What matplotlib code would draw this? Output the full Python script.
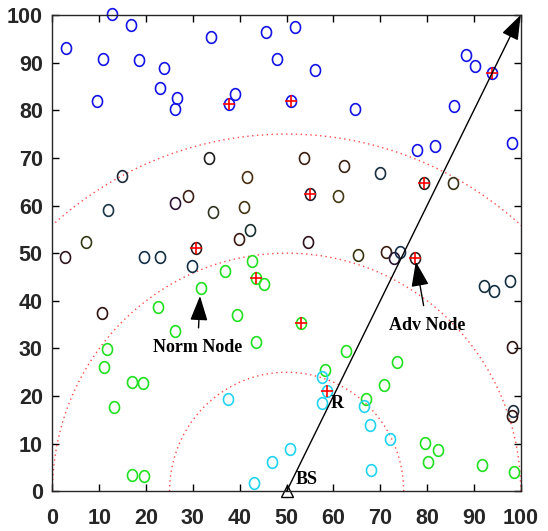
import numpy as np
import matplotlib
matplotlib.use("Agg")
import matplotlib.pyplot as plt
from matplotlib.path import Path

# node positions by distance band from the base station
blue_x = [2.9, 12.7, 16.7, 10.7, 18.4, 9.6, 23.9, 23.0, 26.5, 26.2, 33.8, 37.8, 39.0,
          45.7, 47.9, 51.8, 56.0, 50.9, 64.7, 88.4, 90.3, 93.8, 85.8, 98.1, 77.8, 81.6]
blue_y = [93.0, 100.1, 98.0, 90.8, 90.6, 82.0, 88.8, 84.6, 82.6, 80.3, 95.4, 81.3, 83.4,
          96.5, 90.7, 97.5, 88.4, 82.0, 80.3, 91.6, 89.3, 87.8, 80.8, 73.2, 71.7, 72.5]

dark_x = [33.4, 14.9, 41.5, 53.8, 62.2, 70.0, 28.9, 26.1, 11.9, 34.3, 40.8, 42.2, 39.8,
          7.1, 2.7, 19.6, 23.0, 30.6, 29.9, 10.5, 79.3, 85.5, 55.0, 60.9, 54.6, 65.2,
          71.2, 72.9, 74.3, 77.4, 92.2, 94.2, 97.8, 98.1, 98.3, 98.1]
dark_y = [70.0, 66.2, 65.9, 70.0, 68.2, 66.9, 61.9, 60.5, 59.1, 58.6, 59.7, 54.9, 52.9,
          52.3, 49.2, 49.1, 49.1, 51.0, 47.2, 37.4, 64.7, 64.7, 62.4, 61.9, 52.3, 49.6,
          50.3, 49.0, 50.2, 49.0, 43.2, 42.0, 44.2, 30.4, 16.9, 15.8]
dark_c = ['#202020', '#1c2b3a', '#4a3010', '#3a2010', '#3a2515', '#1a3040', '#3d2015',
          '#2a1535', '#1a3545', '#303520', '#453515', '#1a3030', '#3a1a10', '#353a15',
          '#301520', '#15304a', '#153040', '#302020', '#153045', '#301510', '#252525',
          '#3a3015', '#202030', '#453a15', '#301520', '#3a3510', '#3a2010', '#2a1535',
          '#15304a', '#302020', '#153040', '#153045', '#153040', '#301515', '#203040',
          '#301510']

green_x = [42.7, 36.8, 43.4, 45.2, 31.7, 22.5, 39.4, 26.1, 43.4, 53.1, 11.6, 11.1, 17.0,
           19.4, 13.2, 17.0, 19.6, 62.7, 73.6, 58.3, 70.9, 66.9, 79.5, 82.4, 80.2, 91.8, 98.6]
green_y = [48.4, 46.3, 44.8, 43.5, 42.7, 38.7, 37.0, 33.7, 31.3, 35.3, 29.9, 26.0, 22.9,
           22.8, 17.6, 3.5, 3.3, 29.5, 27.1, 25.4, 22.4, 19.3, 10.1, 8.6, 6.2, 5.5, 4.0]

cyan_x = [37.5, 43.0, 46.9, 57.6, 58.6, 57.5, 66.6, 67.8, 72.0, 50.7, 68.1]
cyan_y = [19.3, 1.7, 6.2, 23.9, 21.0, 18.6, 17.9, 13.9, 11.0, 8.8, 4.5]

# advanced nodes (marked with a red cross)
adv_x = [37.8, 50.9, 93.8, 30.6, 55.0, 79.3, 77.4, 43.4, 53.1, 58.6]
adv_y = [81.3, 82.0, 87.8, 51.0, 62.4, 64.7, 49.0, 44.8, 35.3, 21.0]

bs = (50, 0)
radii = [25, 50, 75]
ticks = list(range(0, 101, 10))

fig = plt.figure(figsize=(5.48, 5.31), dpi=100)
ax = fig.add_axes([0.0958, 0.0747, 0.8544, 0.8971])

# slightly narrow circle marker
t = np.linspace(0, 2 * np.pi, 60)
ell = Path(np.column_stack([0.86 * np.cos(t), np.sin(t)]))
mk = dict(marker=ell, markersize=8.4, markerfacecolor='none', markeredgewidth=1.2,
          linestyle='none', clip_on=False)

# range rings around the base station
th = np.linspace(0, np.pi, 300)
for r in radii:
    ax.plot(bs[0] + r * np.cos(th), bs[1] + r * np.sin(th), linestyle=(0, (1, 2.5)),
            color='#ff4a4a', lw=1.0)

arrow = dict(arrowstyle='-|>,head_length=0.9,head_width=0.32', color='black', lw=1.0,
             shrinkB=0, mutation_scale=17)

ax.annotate('', xy=(100, 100), xytext=bs, arrowprops=dict(arrow, shrinkA=0))

ax.plot(blue_x, blue_y, markeredgecolor='#1414e6', **mk)
for x, y, c in zip(dark_x, dark_y, dark_c):
    ax.plot(x, y, markeredgecolor=c, **mk)
ax.plot(green_x, green_y, markeredgecolor='#22e022', **mk)
ax.plot(cyan_x, cyan_y, markeredgecolor='#22d4f2', **mk)
ax.plot(adv_x, adv_y, marker='+', color='red', markersize=8, markeredgewidth=1.2,
        linestyle='none', clip_on=False)

ax.plot(*bs, marker='^', markersize=8, markerfacecolor='none', markeredgecolor='black',
        markeredgewidth=1.0, clip_on=False)

tfont = dict(family='Liberation Serif', weight='bold', size=13)
ax.annotate('Norm Node', xy=(31.5, 41.0), xytext=(31.0, 30.2), ha='center', va='center',
            arrowprops=dict(arrow, shrinkA=6), **tfont)
ax.annotate('Adv Node', xy=(77.6, 48.2), xytext=(80.0, 34.9), ha='center', va='center',
            arrowprops=dict(arrow, shrinkA=6), **tfont)
ax.text(60.9, 18.5, 'R', ha='center', va='center', **tfont)
ax.text(52.0, 2.4, 'BS', ha='left', va='center', **tfont)

ax.set_xlim(0, 100)
ax.set_ylim(0, 100)
ax.set_xticks(ticks)
ax.set_yticks(ticks)
ax.tick_params(direction='in', length=5, width=1, top=True, right=True)
ax.tick_params(axis='x', pad=12)
ax.tick_params(axis='y', pad=7)
for lab in ax.get_xticklabels() + ax.get_yticklabels():
    lab.set_fontfamily('Liberation Sans')
    lab.set_fontweight('bold')
    lab.set_fontsize(15.5)
    lab.set_color('#262626')
for s in ax.spines.values():
    s.set_linewidth(1.0)
    s.set_color('#262626')

fig.savefig('out.png', dpi=100)
